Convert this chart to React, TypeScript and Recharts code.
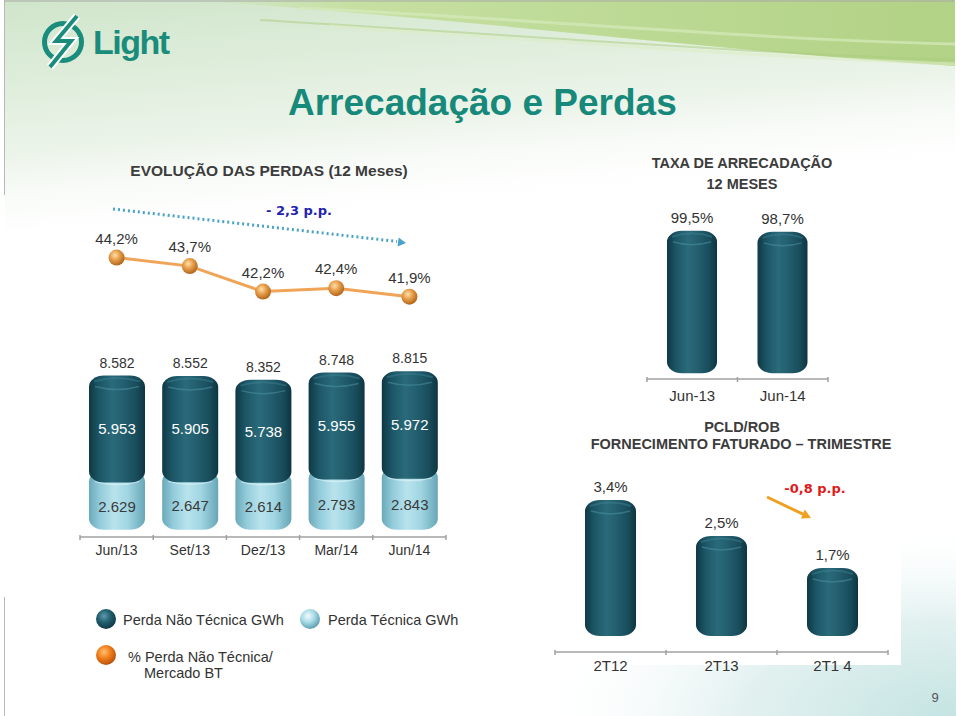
import React from 'react'
import { BarChart, Bar, LineChart, Line, XAxis, YAxis, LabelList } from 'recharts'

// Evolução das perdas (12 meses)
const periods = ['Jun/13', 'Set/13', 'Dez/13', 'Mar/14', 'Jun/14']
const perdaTecnica = [2629, 2647, 2614, 2793, 2843]
const perdaNaoTecnica = [5953, 5905, 5738, 5955, 5972]
const pctNaoTecnica = [44.2, 43.7, 42.2, 42.4, 41.9]

// Taxa de arrecadação 12 meses
const taxaLabels = ['Jun-13', 'Jun-14']
const taxaArrecadacao = [99.5, 98.7]

// PCLD/ROB fornecimento faturado - trimestre
const pcldLabels = ['2T12', '2T13', '2T1 4']
const pcldRob = [3.4, 2.5, 1.7]

const gwhData = periods.map((p, i) => ({
  period: p,
  tecnica: perdaTecnica[i],
  naoTecnica: perdaNaoTecnica[i],
  total: perdaTecnica[i] + perdaNaoTecnica[i],
}))
const pctData = periods.map((p, i) => ({ period: p, pct: pctNaoTecnica[i] }))
const taxaData = taxaLabels.map((l, i) => ({ label: l, taxa: taxaArrecadacao[i] }))
const pcldData = pcldLabels.map((l, i) => ({ label: l, pcld: pcldRob[i] }))

const FONT = '"Liberation Sans", Arial, sans-serif'
const TEAL = '#1a8c7c'

// chart boxes (left, top, width, height, axis line y)
const GWH = { left: 80, top: 330, width: 366, height: 237 }
const TAXA = { left: 647, top: 190, width: 181, height: 219 }
const PCLD = { left: 555, top: 460, width: 333, height: 222 }

const fmtGwh = (v: any) => String(v).replace(/\B(?=(\d{3})+(?!\d))/g, '.')
const fmtPct = (v: any) => Number(v).toFixed(1).replace('.', ',') + '%'

function cylPath(x: number, top: number, w: number, bottom: number, r: number, ry: number) {
  return `M${x},${top + ry} A${r},${ry} 0 0 1 ${x + r},${top} L${x + w - r},${top} A${r},${ry} 0 0 1 ${x + w},${top + ry} ` +
    `L${x + w},${bottom - ry} A${r},${ry} 0 0 1 ${x + w - r},${bottom} L${x + r},${bottom} A${r},${ry} 0 0 1 ${x},${bottom - ry} Z`
}

// cylinder-like bar, "under" extends the top so the segment above sits on it
const cylinder = (tone: 'dark' | 'light', under = 0) => (props: any) => {
  const { x, y, width, height } = props
  if (!height || height <= 0) return <g />
  const top = y - under
  const bottom = y + height
  const r = Math.min(15, width / 2)
  const ry = 11
  const rim = tone === 'dark' ? '#4b8fa0' : '#e4f6fa'
  return (
    <g>
      <path d={cylPath(x, top, width, bottom, r, ry)} fill={tone === 'dark' ? 'url(#cylDark)' : 'url(#cylLight)'} />
      <path d={`M${x + 6},${top + ry} Q${x + width / 2},${top + ry + 6} ${x + width - 6},${top + ry}`}
        stroke={rim} strokeWidth={1.5} fill="none" opacity={0.55} />
      <path d={`M${x + 5},${top + 6} Q${x + width / 2},${top - 1} ${x + width - 5},${top + 6}`}
        stroke={rim} strokeWidth={2} fill="none" opacity={0.35} />
    </g>
  )
}

const OrangeDot = (p: any) => (
  <circle key={`dot-${p.index}`} cx={p.cx} cy={p.cy} r={8} fill="url(#ballOrange)" />
)

const tickStyle = (size: number) => ({ fill: '#333', fontSize: size, fontFamily: FONT })

// small marks at the category boundaries of an axis line
function boundaryTicks(left: number, width: number, n: number, y: number) {
  return Array.from({ length: n + 1 }, (_, i) => {
    const x = left + (width * i) / n
    return <line key={`${left}-${i}`} x1={x} y1={y - 2} x2={x} y2={y + 3} stroke="#a0a0a0" strokeWidth={1.5} />
  })
}

export default function App() {
  return (
    <div style={{ position: 'absolute', left: 0, top: 0, width: 960, height: 716, overflow: 'hidden', background: '#fff', fontFamily: FONT }}>
      {/* background */}
      <svg width={960} height={716} style={{ position: 'absolute', left: 0, top: 0 }}>
        <defs>
          <linearGradient id="bgTop" x1="0" y1="0" x2="0.35" y2="1">
            <stop offset="0" stopColor="#cfe5ca" />
            <stop offset="0.6" stopColor="#ecf4ea" />
            <stop offset="1" stopColor="#ffffff" stopOpacity={0} />
          </linearGradient>
          <linearGradient id="swoosh" x1="0" y1="0" x2="1" y2="0">
            <stop offset="0" stopColor="#c8e0a8" stopOpacity={0} />
            <stop offset="0.22" stopColor="#c6e0a2" />
            <stop offset="1" stopColor="#b2d285" />
          </linearGradient>
          <radialGradient id="bgBottom" cx="1" cy="1" r="0.9">
            <stop offset="0" stopColor="#c4e4e2" />
            <stop offset="0.5" stopColor="#e2f1f0" />
            <stop offset="1" stopColor="#ffffff" stopOpacity={0} />
          </radialGradient>
          <linearGradient id="cylDark" x1="0" y1="0" x2="1" y2="0">
            <stop offset="0" stopColor="#0f3844" />
            <stop offset="0.18" stopColor="#1c5666" />
            <stop offset="0.42" stopColor="#2a6a7a" />
            <stop offset="0.62" stopColor="#235e6e" />
            <stop offset="0.85" stopColor="#184c5b" />
            <stop offset="1" stopColor="#0e3541" />
          </linearGradient>
          <linearGradient id="cylLight" x1="0" y1="0" x2="1" y2="0">
            <stop offset="0" stopColor="#6aa9ba" />
            <stop offset="0.2" stopColor="#94ccdb" />
            <stop offset="0.45" stopColor="#b8e3ed" />
            <stop offset="0.7" stopColor="#a0d5e2" />
            <stop offset="1" stopColor="#67a6b7" />
          </linearGradient>
          <radialGradient id="ballOrange" cx="0.4" cy="0.35" r="0.65">
            <stop offset="0" stopColor="#fde2ad" />
            <stop offset="0.45" stopColor="#e9a04c" />
            <stop offset="1" stopColor="#b0661c" />
          </radialGradient>
          <radialGradient id="ballDark" cx="0.4" cy="0.35" r="0.65">
            <stop offset="0" stopColor="#5d9aaa" />
            <stop offset="0.5" stopColor="#215f70" />
            <stop offset="1" stopColor="#0f3a47" />
          </radialGradient>
          <radialGradient id="ballLight" cx="0.4" cy="0.35" r="0.65">
            <stop offset="0" stopColor="#f2fbfd" />
            <stop offset="0.5" stopColor="#a9dbe7" />
            <stop offset="1" stopColor="#5f9fb1" />
          </radialGradient>
          <radialGradient id="ballOrange2" cx="0.4" cy="0.35" r="0.65">
            <stop offset="0" stopColor="#ffc070" />
            <stop offset="0.5" stopColor="#f07f1c" />
            <stop offset="1" stopColor="#b8520c" />
          </radialGradient>
        </defs>
        <rect x={5} y={0} width={950} height={230} fill="url(#bgTop)" />
        <path d="M180,0 C430,14 700,50 955,66 L955,0 Z" fill="url(#swoosh)" />
        <path d="M300,8 C520,18 760,40 955,44" stroke="#d6eabc" strokeWidth={3} fill="none" opacity={0.7} />
        <path d="M260,20 C500,34 760,54 955,60" stroke="#a9cc7c" strokeWidth={2} fill="none" opacity={0.5} />
        <path d="M330,26 C560,42 780,58 955,64" stroke="#dcecc6" strokeWidth={3} fill="none" opacity={0.6} />
        <rect x={480} y={500} width={476} height={216} fill="url(#bgBottom)" />
        <rect x={548} y={458} width={353} height={207} fill="#ffffff" />
        <line x1={5} y1={1} x2={955} y2={1} stroke="#a8a8a8" strokeWidth={1} />
        <line x1={4.5} y1={0} x2={4.5} y2={195} stroke="#b8b8b8" strokeWidth={1} />
        <line x1={4.5} y1={597} x2={4.5} y2={716} stroke="#b8b8b8" strokeWidth={1} />

        {/* logo */}
        <circle cx={63} cy={42} r={18.5} fill="none" stroke={TEAL} strokeWidth={5} />
        <path d="M77,16 L56,41 L71,41 L50,67" fill="none" stroke="#ffffff" strokeWidth={8} strokeLinejoin="miter" />
        <path d="M77,16 L56,41 L71,41 L50,67" fill="none" stroke={TEAL} strokeWidth={4} strokeLinejoin="miter" />
        <text x={93} y={54} fontSize={34} fontWeight="bold" fill={TEAL} letterSpacing={-1.5} fontFamily={FONT}>Light</text>

        {/* title */}
        <text x={288} y={115} fontSize={37} fontWeight="bold" fill="#17897a" fontFamily={FONT}>Arrecadação e Perdas</text>
      </svg>

      {/* % perda não técnica line */}
      <div style={{ position: 'absolute', left: 80, top: 200 }}>
        <LineChart width={366} height={140} data={pctData} margin={{ top: 27, right: 0, bottom: 11, left: 0 }}>
          <XAxis dataKey="period" hide scale="band" />
          <YAxis hide domain={[40, 46]} />
          <Line dataKey="pct" stroke="#f0a458" strokeWidth={3} dot={OrangeDot} isAnimationActive={false}>
            <LabelList dataKey="pct" position="top" offset={14} formatter={fmtPct} fill="#333" fontSize={15} fontFamily={FONT} />
          </Line>
        </LineChart>
      </div>

      {/* perdas GWh stacked */}
      <div style={{ position: 'absolute', left: GWH.left, top: GWH.top }}>
        <BarChart width={GWH.width} height={GWH.height} data={gwhData} margin={{ top: 38, right: 0, bottom: 0, left: 0 }} barSize={56}>
          <XAxis dataKey="period" axisLine={{ stroke: '#a0a0a0', strokeWidth: 1.5 }} tickLine={false} tick={tickStyle(14)} />
          <YAxis hide domain={[-400, 9000]} />
          <Bar dataKey="tecnica" stackId="a" shape={cylinder('light', 12)} isAnimationActive={false}>
            <LabelList dataKey="tecnica" position="center" formatter={fmtGwh} fill="#3a3a3a" fontSize={15} fontFamily={FONT} />
          </Bar>
          <Bar dataKey="naoTecnica" stackId="a" shape={cylinder('dark')} isAnimationActive={false}>
            <LabelList dataKey="naoTecnica" position="center" formatter={fmtGwh} fill="#ffffff" fontSize={15} fontFamily={FONT} />
            <LabelList dataKey="total" position="top" offset={8} formatter={fmtGwh} fill="#333" fontSize={14} fontFamily={FONT} />
          </Bar>
        </BarChart>
      </div>

      {/* taxa de arrecadação */}
      <div style={{ position: 'absolute', left: TAXA.left, top: TAXA.top }}>
        <BarChart width={TAXA.width} height={TAXA.height} data={taxaData} margin={{ top: 40, right: 0, bottom: 0, left: 0 }} barSize={50}>
          <XAxis dataKey="label" axisLine={{ stroke: '#a0a0a0', strokeWidth: 1.5 }} tickLine={false} tickMargin={5} tick={tickStyle(15)} />
          <YAxis hide domain={[-4, 100]} />
          <Bar dataKey="taxa" shape={cylinder('dark')} isAnimationActive={false}>
            <LabelList dataKey="taxa" position="top" offset={8} formatter={fmtPct} fill="#333" fontSize={15} fontFamily={FONT} />
          </Bar>
        </BarChart>
      </div>

      {/* PCLD/ROB */}
      <div style={{ position: 'absolute', left: PCLD.left, top: PCLD.top }}>
        <BarChart width={PCLD.width} height={PCLD.height} data={pcldData} margin={{ top: 32, right: 0, bottom: 0, left: 0 }} barSize={51}>
          <XAxis dataKey="label" axisLine={{ stroke: '#a0a0a0', strokeWidth: 1.5 }} tickLine={false} tick={tickStyle(15)} />
          <YAxis hide domain={[-0.4, 3.6]} />
          <Bar dataKey="pcld" shape={cylinder('dark')} isAnimationActive={false}>
            <LabelList dataKey="pcld" position="top" offset={8} formatter={fmtPct} fill="#333" fontSize={15} fontFamily={FONT} />
          </Bar>
        </BarChart>
      </div>

      {/* headers, annotations, legend */}
      <svg width={960} height={716} style={{ position: 'absolute', left: 0, top: 0, pointerEvents: 'none' }}>
        {boundaryTicks(GWH.left, GWH.width, periods.length, GWH.top + GWH.height - 30)}
        {boundaryTicks(TAXA.left, TAXA.width, taxaLabels.length, TAXA.top + TAXA.height - 30)}
        {boundaryTicks(PCLD.left, PCLD.width, pcldLabels.length, PCLD.top + PCLD.height - 30)}

        <g fontFamily={FONT} fontWeight="bold" fill="#3c3c3c" textAnchor="middle">
          <text x={269} y={175.5} fontSize={15.5}>EVOLUÇÃO DAS PERDAS (12 Meses)</text>
          <text x={742} y={168} fontSize={14.5}>TAXA DE ARRECADAÇÃO</text>
          <text x={742} y={189} fontSize={14.5}>12 MESES</text>
          <text x={742} y={432} fontSize={14.5}>PCLD/ROB</text>
          <text x={741} y={449} fontSize={14.5}>FORNECIMENTO FATURADO – TRIMESTRE</text>
        </g>

        <line x1={113} y1={209} x2={397} y2={241.5} stroke="#4aa3c6" strokeWidth={3} strokeDasharray="2 3" />
        <polygon points="406,243 397.6,246.6 398.6,237.6" fill="#4aa3c6" />
        <text x={299} y={214.5} fontSize={13} fontWeight="bold" fill="#1f23b0" textAnchor="middle" fontFamily="DejaVu Sans, Verdana, sans-serif">- 2,3 p.p.</text>

        <line x1={767} y1={497} x2={803} y2={514.2} stroke="#f0a020" strokeWidth={3} />
        <polygon points="811,518 800.9,518.6 804.8,509.6" fill="#f0a020" />
        <text x={815} y={492.5} fontSize={13} fontWeight="bold" fill="#e0191b" textAnchor="middle" fontFamily="DejaVu Sans, Verdana, sans-serif">-0,8 p.p.</text>

        <circle cx={106} cy={619} r={10} fill="url(#ballDark)" />
        <circle cx={310} cy={619} r={10} fill="url(#ballLight)" />
        <circle cx={106} cy={655} r={10} fill="url(#ballOrange2)" />
        <g fontFamily={FONT} fontSize={14.5} fill="#333">
          <text x={123} y={625}>Perda Não Técnica GWh</text>
          <text x={328} y={625}>Perda Técnica GWh</text>
          <text x={128} y={662}>% Perda Não Técnica/</text>
          <text x={144} y={678}>Mercado BT</text>
        </g>
        <text x={935} y={702} fontSize={13} fill="#555" textAnchor="middle" fontFamily={FONT}>9</text>
      </svg>
    </div>
  )
}
